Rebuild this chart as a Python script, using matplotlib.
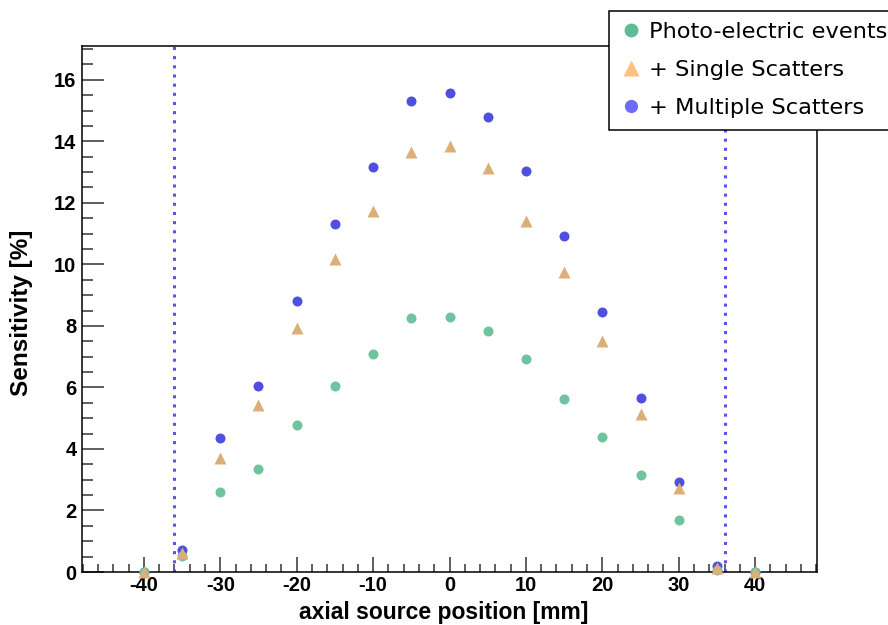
import numpy as np
import matplotlib.pyplot as plt
from matplotlib.lines import Line2D
from matplotlib.ticker import MultipleLocator

plt.rcParams['axes.unicode_minus'] = False

pos = [-40, -35, -30, -25, -20, -15, -10, -5, 0, 5, 10, 15, 20, 25, 30, 35, 40]
photo = [0.0, 0.52, 2.6, 3.35, 4.78, 6.05, 7.09, 8.26, 8.29, 7.84, 6.93, 5.63, 4.39, 3.15, 1.69, 0.07, 0.0]
single = [0.0, 0.62, 3.7, 5.43, 7.93, 10.18, 11.74, 13.66, 13.85, 13.14, 11.41, 9.76, 7.51, 5.14, 2.73, 0.13, 0.0]
multiple = [0.0, 0.72, 4.36, 6.05, 8.81, 11.32, 13.17, 15.32, 15.58, 14.8, 13.04, 10.93, 8.46, 5.66, 2.93, 0.2, 0.0]
fov_edge = [-36, 36]

green = '#6fc39f'
tan = '#dcae78'
blue = '#5050e0'

fig = plt.figure(figsize=(8.88, 6.25), dpi=100)
ax = fig.add_axes([82/888, 53/625, 735/888, 526/625])

ax.plot(pos, multiple, 'o', ms=7.2, color=blue, mec='none', clip_on=False, zorder=3)
ax.plot(pos, photo, 'o', ms=7.2, color=green, mec='none', clip_on=False, zorder=4)
ax.plot(pos, single, '^', ms=9, color=tan, mec='none', clip_on=False, zorder=5)
for xv in fov_edge:
    ax.axvline(xv, color='#5555ee', lw=2.2, linestyle=(0, (1, 2)), zorder=2)

ax.set_xlim(-48.1, 48.1)
ax.set_ylim(0, 17.1)
ax.xaxis.set_major_locator(MultipleLocator(10))
ax.xaxis.set_minor_locator(MultipleLocator(2))
ax.yaxis.set_major_locator(MultipleLocator(2))
ax.yaxis.set_minor_locator(MultipleLocator(0.5))
ax.tick_params(which='both', direction='in', top=False, right=False, color='#333333')
ax.tick_params(axis='x', which='major', length=11, width=1.1, pad=3)
ax.tick_params(axis='x', which='minor', length=5.5, width=1.1)
ax.tick_params(axis='y', which='major', length=16, width=1.1, pad=4)
ax.tick_params(axis='y', which='minor', length=8, width=1.1)
for lab in ax.get_xticklabels() + ax.get_yticklabels():
    lab.set_fontfamily('Liberation Sans')
    lab.set_fontweight('bold')
    lab.set_fontsize(14.5)
for sp in ax.spines.values():
    sp.set_linewidth(1.1)

ax.set_xlabel('axial source position [mm]', fontfamily='Liberation Sans',
              fontweight='bold', fontsize=16.5)
ax.set_ylabel('Sensitivity [%]', fontfamily='Liberation Sans',
              fontweight='bold', fontsize=17.5)
ax.xaxis.set_label_coords(0.4925, -0.0894)
ax.xaxis.label.set_va('baseline')
ax.yaxis.set_label_coords(-0.073, 0.4933)
ax.yaxis.label.set_va('baseline')

handles = [
    Line2D([], [], marker='o', ls='none', ms=10, color='#5dbb95', mec='none'),
    Line2D([], [], marker='^', ls='none', ms=12, color='#ffc080', mec='none'),
    Line2D([], [], marker='o', ls='none', ms=9.5, color='#6b6bff', mec='none'),
]
labels = ['Photo-electric events', '+ Single Scatters', '+ Multiple Scatters']
leg = fig.legend(handles, labels, loc='upper left', bbox_to_anchor=(609/888, 1 - 11/625),
                 borderaxespad=0, frameon=True, fancybox=False, edgecolor='black',
                 framealpha=1, prop={'family': 'DejaVu Sans', 'size': 16.2},
                 handlelength=0.92, handletextpad=0.34, borderpad=0.5, labelspacing=0.8)
leg.get_frame().set_linewidth(1.1)

fig.savefig('out.png', dpi=100)
